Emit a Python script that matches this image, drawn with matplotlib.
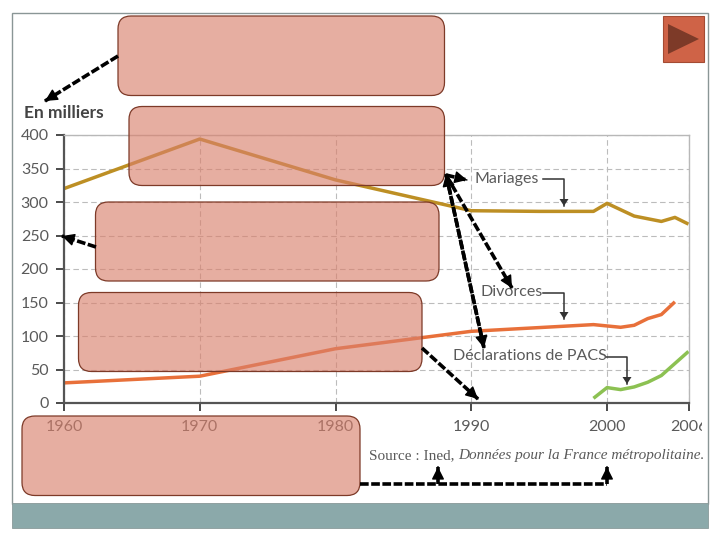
import matplotlib
matplotlib.use('Agg')
import matplotlib.pyplot as plt
from matplotlib.patches import FancyBboxPatch, Rectangle, Polygon
from matplotlib.transforms import Bbox, IdentityTransform, blended_transform_factory

# valeurs
annees_mariages = [1960, 1970, 1980, 1990, 1995, 1999, 2000, 2002, 2004, 2005, 2006]
mariages = [320, 394, 333, 287, 286, 286, 298, 279, 271, 277, 267]
annees_divorces = [1960, 1970, 1980, 1990, 1999, 2000, 2001, 2002, 2003, 2004, 2005]
divorces = [30, 40, 81, 107, 117, 115, 113, 116, 126, 132, 151]
annees_pacs = [1999, 2000, 2001, 2002, 2003, 2004, 2005, 2006]
pacs = [7, 23, 20, 24, 31, 41, 59, 77]
x_ticks = [1960, 1970, 1980, 1990, 2000, 2006]
y_ticks = [0, 50, 100, 150, 200, 250, 300, 350, 400]

W, H = 720, 540
GRIS = '#5a5a5a'
plt.rcParams['font.family'] = ['Lato', 'DejaVu Sans']

fig = plt.figure(figsize=(W / 100, H / 100), dpi=100, facecolor='white')

# graphique principal
ax = fig.add_axes([64 / W, 1 - 403 / H, (688.5 - 64) / W, (403 - 135) / H])
ax.set_xlim(1960, 2006)
ax.set_ylim(0, 400)
ax.set_xticks(x_ticks)
ax.set_yticks(y_ticks)
ax.grid(True, color='#bcbcbc', linestyle=(0, (5, 3)), linewidth=0.8)
ax.set_axisbelow(True)
ax.tick_params(axis='both', color='#4a4a4a', width=1.4, length=6, labelsize=11.5,
               labelcolor=GRIS, pad=5)
ax.tick_params(axis='x', pad=6)
for s in ['left', 'bottom']:
    ax.spines[s].set_color('#555555')
    ax.spines[s].set_linewidth(1.6)
for s in ['top', 'right']:
    ax.spines[s].set_color('#b8b8b8')
    ax.spines[s].set_linewidth(1)

ax.plot(annees_mariages, mariages, color='#bd8f24', lw=2.5, solid_capstyle='butt')
ax.plot(annees_divorces, divorces, color='#e8703a', lw=2.5, solid_capstyle='butt')
ax.plot(annees_pacs, pacs, color='#8cc152', lw=2.5, solid_capstyle='butt')

# le dernier label est coupe dans l'original
for lab in ax.get_xticklabels():
    lab.set_clip_box(Bbox([[0, 0], [702, H]]))
    lab.set_clip_on(True)

# calque en pixels pour le cadre, les boites et les fleches
ov = fig.add_axes([0, 0, 1, 1], zorder=5)
ov.set_xlim(0, W)
ov.set_ylim(H, 0)
ov.axis('off')

ov.add_patch(Rectangle((12, 12.5), 695.5, 491, fill=False, ec='#8a9696', lw=1))
ov.add_patch(Rectangle((12, 503), 695.5, 25, fc='#8ba9aa', ec='#8a9a9a', lw=0.6))

ov.text(24, 112.5, 'En milliers', fontsize=12.5, fontweight='bold', color='#444444', va='center')
ov.text(475, 179, 'Mariages', fontsize=11.5, color=GRIS, va='center')
ov.text(481, 292.5, 'Divorces', fontsize=11.5, color=GRIS, va='center')
ov.text(453, 356.5, 'Déclarations de PACS', fontsize=11.5, color=GRIS, va='center')
src = ov.text(369, 456, 'Source : Ined, ', fontsize=11, color=GRIS, va='center',
              family=['Liberation Serif'])
fig.canvas.draw()
bb = src.get_window_extent()
ov.text(bb.x1, 456, 'Données pour la France métropolitaine.', fontsize=11, color=GRIS,
        va='center', style='italic', family=['Liberation Serif'],
        transform=blended_transform_factory(IdentityTransform(), ov.transData))

# fleches fines des etiquettes
for pts in [[(543, 179), (564, 179), (564, 206)],
            [(543, 292.5), (564, 292.5), (564, 319)],
            [(606, 356.5), (627, 356.5), (627, 384)]]:
    xs, ys = zip(*pts)
    ov.plot(xs, ys, color='#333333', lw=1.1)
    ov.add_patch(Polygon([(xs[2] - 4.5, ys[2] - 7), (xs[2] + 4.5, ys[2] - 7), (xs[2], ys[2])],
                         fc='#333333', ec='none'))

# boites
for x0, y0, x1, y1 in [(118, 16, 444.5, 95.5), (129, 106.5, 444.5, 185.5), (95.5, 202, 439, 281),
                       (78.5, 292.5, 422, 371.5), (22, 416, 360, 495.5)]:
    ov.add_patch(FancyBboxPatch((x0 + 13, y0 + 13), x1 - x0 - 26, y1 - y0 - 26,
                                boxstyle='round,pad=13,rounding_size=13',
                                fc='#d9806c', ec='none', alpha=0.64))
    ov.add_patch(FancyBboxPatch((x0 + 13, y0 + 13), x1 - x0 - 26, y1 - y0 - 26,
                                boxstyle='round,pad=13,rounding_size=13',
                                fc='none', ec='#7d3a28', lw=0.9))

# fleches pointillees
def fleche(pts, tete=True):
    xs, ys = zip(*pts)
    ov.plot(xs, ys, color='black', lw=2.6, linestyle=(0, (2.4, 0.7)), dash_capstyle='butt', zorder=6)
    if tete:
        x2, y2 = pts[-1]
        x1, y1 = pts[-2]
        ov.annotate('', xy=(x2, y2), xytext=(x2 - (x2 - x1) * 0.001, y2 - (y2 - y1) * 0.001),
                    arrowprops=dict(arrowstyle='-|>,head_width=0.38,head_length=0.75', color='black',
                                    lw=1, shrinkA=0, shrinkB=0), zorder=7)

fleche([(118, 56), (45, 101)])
fleche([(96, 247), (62, 236)])
fleche([(446, 175), (467, 180)])
fleche([(446, 175), (512, 288)])
fleche([(484, 348), (446, 174)])
fleche([(446, 174), (484, 348)])
fleche([(422, 348), (478, 399)])
fleche([(360, 484), (607, 484)], tete=False)
fleche([(607, 484), (607, 467)])
fleche([(438, 484), (438, 467)])

# bouton
ov.add_patch(Rectangle((663, 16), 41, 46, fc='#cf6347', ec='#a44b33', lw=0.8))
ov.add_patch(Polygon([(668, 24), (699, 39), (668, 54)], fc='#7d3a28', ec='none'))

fig.savefig('out.png', dpi=100)
